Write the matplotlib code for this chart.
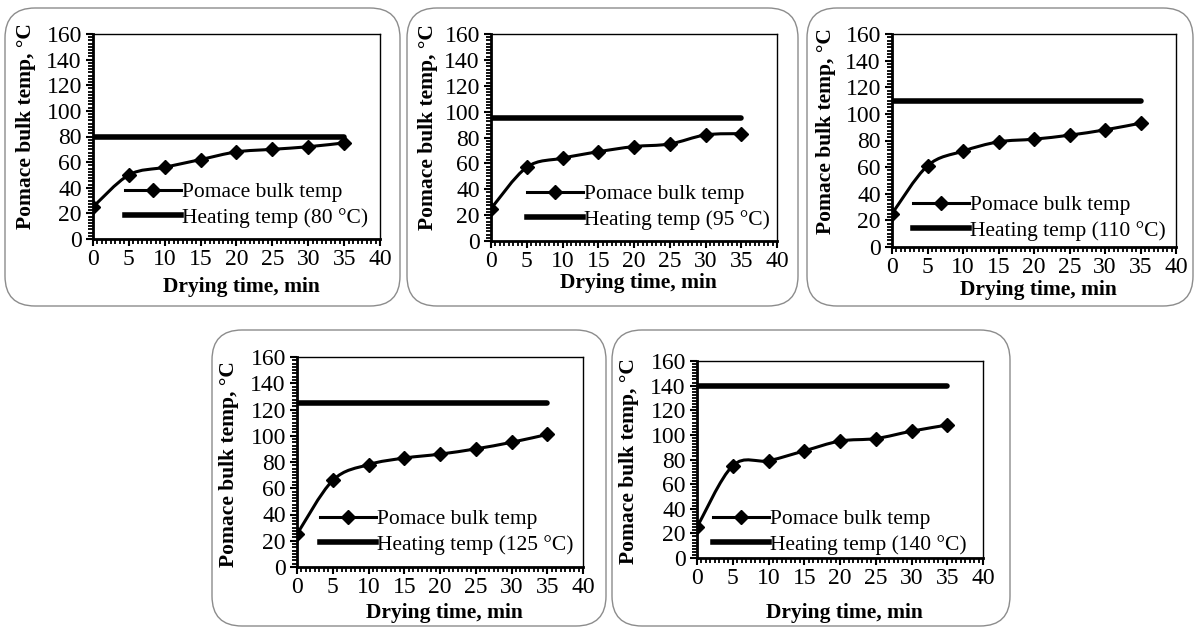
import matplotlib
matplotlib.use("Agg")
import matplotlib.pyplot as plt
import numpy as np
from matplotlib.lines import Line2D
from matplotlib.patches import FancyBboxPatch, PathPatch
from matplotlib.path import Path
from matplotlib.ticker import MultipleLocator

plt.rcParams["font.family"] = ["Liberation Serif", "DejaVu Serif"]

W, H = 1198, 628

time_min = [0, 5, 10, 15, 20, 25, 30, 35]
heating_temps = [80, 95, 110, 125, 140]
pomace_80 = [25, 50, 56, 62, 68, 70, 72, 75]
pomace_95 = [25, 57, 64, 69, 73, 75, 82, 83]
pomace_110 = [25, 61, 72, 79, 81, 84, 88, 93]
pomace_125 = [25, 66, 78, 83, 86, 90, 95, 101]
pomace_140 = [25, 75, 79, 87, 95, 97, 103, 108]
pomace_series = [pomace_80, pomace_95, pomace_110, pomace_125, pomace_140]

# layout in pixels: frame box, plot area, legend anchor, x label y, y label (x, y)
PANELS = [
    dict(box=(5, 8, 400, 306), ax=(93, 34, 380, 239), leg=(125, 182), xl=287, yl=(26, 126)),
    dict(box=(407, 8, 798, 306), ax=(491, 34, 777, 241), leg=(527, 184), xl=283, yl=(428, 127)),
    dict(box=(807, 8, 1193, 306), ax=(892, 34, 1176, 247), leg=(913, 195), xl=290, yl=(826, 131)),
    dict(box=(212, 330, 606, 626), ax=(297, 357, 583, 567), leg=(320, 509), xl=613, yl=(229, 464)),
    dict(box=(612, 330, 1010, 626), ax=(697, 361, 983, 558), leg=(713, 509), xl=613, yl=(629, 461)),
]


def smooth_path(x, y):
    """Excel-style smoothed line (Catmull-Rom as cubic Bezier)."""
    pts = np.column_stack([x, y]).astype(float)
    ext = np.vstack([pts[0], pts, pts[-1]])
    verts = [pts[0]]
    codes = [Path.MOVETO]
    for i in range(len(pts) - 1):
        p0, p1, p2, p3 = ext[i], ext[i + 1], ext[i + 2], ext[i + 3]
        verts += [p1 + (p2 - p0) / 6, p2 - (p3 - p1) / 6, p2]
        codes += [Path.CURVE4] * 3
    return Path(verts, codes)


fig = plt.figure(figsize=(W / 100, H / 100), dpi=100)

for p, temp, series in zip(PANELS, heating_temps, pomace_series):
    bx0, by0, bx1, by1 = p["box"]
    fig.patches.append(FancyBboxPatch(
        (bx0 / 100, (H - by1) / 100), (bx1 - bx0) / 100, (by1 - by0) / 100,
        boxstyle="round,pad=0,rounding_size=0.3", transform=fig.dpi_scale_trans,
        fill=False, edgecolor="#8c8c8c", linewidth=1.0))

    x0, y0, x1, y1 = p["ax"]
    ax = fig.add_axes([x0 / W, (H - y1) / H, (x1 - x0) / W, (y1 - y0) / H])
    ax.set_xlim(0, 40)
    ax.set_ylim(0, 160)
    ax.xaxis.set_major_locator(MultipleLocator(5))
    ax.xaxis.set_minor_locator(MultipleLocator(0.625))
    ax.yaxis.set_major_locator(MultipleLocator(20))
    ax.yaxis.set_minor_locator(MultipleLocator(2.5))
    ax.tick_params(which="major", direction="out", length=5, width=1.5,
                   labelsize=17, pad=2)
    ax.tick_params(which="minor", direction="out", length=3.5, width=1.3)
    ax.tick_params(axis="y", which="major", pad=3)
    for side in ("left", "bottom"):
        ax.spines[side].set_linewidth(2.0)
    for side in ("top", "right"):
        ax.spines[side].set_linewidth(1.0)

    ax.plot([time_min[0], time_min[-1]], [temp, temp], color="black", lw=4,
            solid_capstyle="round")
    ax.add_patch(PathPatch(smooth_path(time_min, series), fill=False,
                           edgecolor="black", lw=2.2))
    ax.plot(time_min, series, ls="none", marker="D", ms=7.5, color="black")

    handles = [
        Line2D([], [], color="black", lw=2.2, marker="D", ms=7),
        Line2D([], [], color="black", lw=4),
    ]
    labels = ["Pomace bulk temp", f"Heating temp ({temp} \u00b0C)"]
    lx, ly = p["leg"]
    ax.legend(handles, labels, loc="upper left", bbox_to_anchor=(lx / W, 1 - ly / H),
              bbox_transform=fig.transFigure, frameon=False, fontsize=15.5,
              handlelength=2.6, handletextpad=0.05, labelspacing=0.25,
              borderpad=0, borderaxespad=0)

    fig.text((x0 + x1) / 2 / W + 0.004, 1 - p["xl"] / H, "Drying time, min",
             ha="center", va="center", fontsize=15.5, fontweight="bold")
    ylx, yly = p["yl"]
    fig.text(ylx / W, 1 - yly / H, "Pomace bulk temp, \u00b0C",
             ha="center", va="center", rotation=90, fontsize=15.5, fontweight="bold")

fig.savefig("out.png", dpi=100)
